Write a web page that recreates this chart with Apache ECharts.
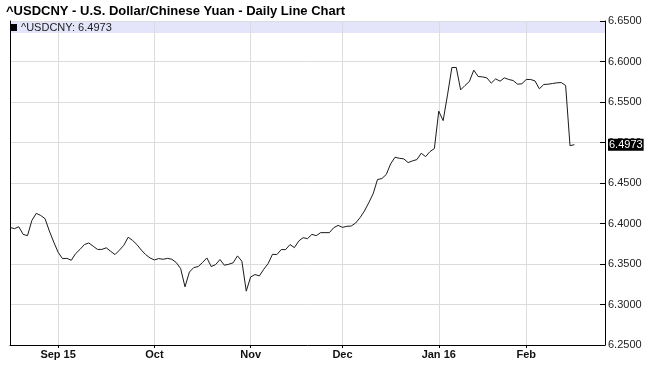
<!DOCTYPE html>
<html>
<head>
<meta charset="utf-8">
<script src="https://cdn.jsdelivr.net/npm/echarts@6/dist/echarts.min.js"></script>
<style>
html,body{margin:0;padding:0;background:#fff;}
#chart{width:650px;height:386px;}
</style>
</head>
<body>
<div id="chart"></div>
<script>
// ---- Data ----
var seriesName = '^USDCNY';
var firstDate = '2015-08-17';
var holidays = ['2015-12-25', '2016-01-01'];
var slotCount = 137;
var values = [
  6.3952, 6.3936, 6.3960, 6.3866, 6.3850, 6.4038, 6.4125, 6.4100, 6.4060, 6.3907,
  6.3770, 6.3645, 6.3566, 6.3570, 6.3546, 6.3628, 6.3680, 6.3740, 6.3760, 6.3720,
  6.3680, 6.3680, 6.3700, 6.3657, 6.3616, 6.3670, 6.3730, 6.3830, 6.3792, 6.3740,
  6.3673, 6.3616, 6.3575, 6.3550, 6.3567, 6.3558, 6.3570, 6.3558, 6.3518, 6.3444,
  6.3218, 6.3400, 6.3456, 6.3468, 6.3518, 6.3575, 6.3468, 6.3493, 6.3555, 6.3485,
  6.3497, 6.3515, 6.3600, 6.3534, 6.3165, 6.3340, 6.3370, 6.3353, 6.3435, 6.3505,
  6.3620, 6.3616, 6.3678, 6.3678, 6.3740, 6.3702, 6.3784, 6.3825, 6.3813, 6.3866,
  6.3850, 6.3887, 6.3887, 6.3887, 6.3948, 6.3977, 6.3952, 6.3965, 6.3969, 6.4006,
  6.4071, 6.4153, 6.4256, 6.4367, 6.4543, 6.4555, 6.4605, 6.4736, 6.4818, 6.4805,
  6.4798, 6.4752, 6.4773, 6.4789, 6.4867, 6.4826, 6.4888, 6.4925, 6.5387, 6.5270,
  6.5587, 6.5926, 6.5926, 6.5650, 6.5704, 6.5753, 6.5893, 6.5815, 6.5810, 6.5798,
  6.5733, 6.5786, 6.5757, 6.5798, 6.5778, 6.5765, 6.5720, 6.5725, 6.5778, 6.5778,
  6.5760, 6.5663, 6.5716, 6.5720, 6.5728, 6.5737, 6.5740, 6.5704, 6.4961, 6.4973
];
var tickDates = ['2015-09-01', '2015-10-01', '2015-11-02', '2015-12-01', '2016-01-04', '2016-02-01'];
var tickLabels = ['Sep 15', 'Oct', 'Nov', 'Dec', 'Jan 16', 'Feb'];
var yMin = 6.25, yMax = 6.65, yStep = 0.05;

// ---- Build trading-day categories ----
function pad(n){return n<10?'0'+n:''+n;}
var categories = [];
(function(){
  var p = firstDate.split('-');
  var d = new Date(Date.UTC(+p[0], +p[1]-1, +p[2]));
  while (categories.length < slotCount) {
    var wd = d.getUTCDay();
    var s = d.getUTCFullYear() + '-' + pad(d.getUTCMonth()+1) + '-' + pad(d.getUTCDate());
    if (wd !== 0 && wd !== 6 && holidays.indexOf(s) < 0) categories.push(s);
    d.setUTCDate(d.getUTCDate() + 1);
  }
})();
var seriesData = categories.map(function(c, i){ return i < values.length ? values[i] : null; });
var lastValue = values[values.length - 1];
function isTick(idx, val){ return tickDates.indexOf(categories[idx]) >= 0; }

var FONT = 'Arial, "Liberation Sans", sans-serif';
var chart = echarts.init(document.getElementById('chart'), null, {renderer: 'canvas'});
chart.setOption({
  animation: false,
  backgroundColor: '#ffffff',
  title: {
    text: '^USDCNY - U.S. Dollar/Chinese Yuan - Daily Line Chart',
    left: 1, top: 0,
    textStyle: {fontFamily: FONT, fontSize: 13, fontWeight: 'bold', color: '#000'}
  },
  graphic: [{
    type: 'rect', z: -10, silent: true,
    shape: {x: 10, y: 21, width: 595, height: 12},
    style: {fill: '#e4e4fa'}
  }],
  legend: {
    show: true, left: 8, top: 20, padding: [2, 2],
    icon: 'rect', itemWidth: 7, itemHeight: 7, itemGap: 4,
    data: [seriesName],
    formatter: function(n){ return n + ': ' + lastValue.toFixed(4); },
    textStyle: {fontFamily: FONT, fontSize: 11, color: '#222', padding: [0, 0, 0, -1]}
  },
  grid: {left: 10, right: 45, top: 21, bottom: 41, containLabel: false},
  xAxis: {
    type: 'category', data: categories, boundaryGap: false,
    axisLine: {show: true, lineStyle: {color: '#000', width: 1}},
    axisTick: {show: true, interval: isTick, length: 3, lineStyle: {color: '#000'}},
    axisLabel: {
      interval: isTick, margin: 4,
      fontFamily: FONT, fontSize: 11, fontWeight: 'bold', color: '#111',
      formatter: function(v){ var k = tickDates.indexOf(v); return k >= 0 ? tickLabels[k] : ''; }
    },
    splitLine: {show: true, interval: isTick, lineStyle: {color: '#dcdcdc', width: 1}}
  },
  yAxis: [{
    type: 'value', position: 'right', min: yMin, max: yMax, interval: yStep,
    axisLine: {show: true, lineStyle: {color: '#000', width: 1}},
    axisTick: {show: true, inside: true, length: 5, lineStyle: {color: '#000'}},
    axisLabel: {
      margin: 3, fontFamily: FONT, fontSize: 11, color: '#222',
      formatter: function(v){ return v.toFixed(4); }
    },
    splitLine: {show: true, lineStyle: {color: '#dcdcdc', width: 1}},
    axisPointer: {
      show: true, type: 'line', value: lastValue, status: 'show', triggerTooltip: false,
      lineStyle: {opacity: 0},
      label: {
        show: true, margin: 3, precision: 4,
        formatter: function(p){ return Number(p.value).toFixed(4); },
        fontFamily: FONT, fontSize: 11, color: '#fff',
        backgroundColor: '#000', padding: [1, 1, 0, 1], borderRadius: 0,
        shadowBlur: 0
      }
    }
  }, {
    type: 'value', position: 'left', min: yMin, max: yMax, interval: yStep,
    axisLine: {show: true, lineStyle: {color: '#000', width: 1}},
    axisTick: {show: false}, axisLabel: {show: false}, splitLine: {show: false}
  }],
  series: [{
    name: seriesName, type: 'line', data: seriesData, yAxisIndex: 0,
    showSymbol: false, symbol: 'none', smooth: false, connectNulls: false,
    lineStyle: {color: '#1a1a1a', width: 1},
    itemStyle: {color: '#000'}
  }]
});
</script>
</body>
</html>
